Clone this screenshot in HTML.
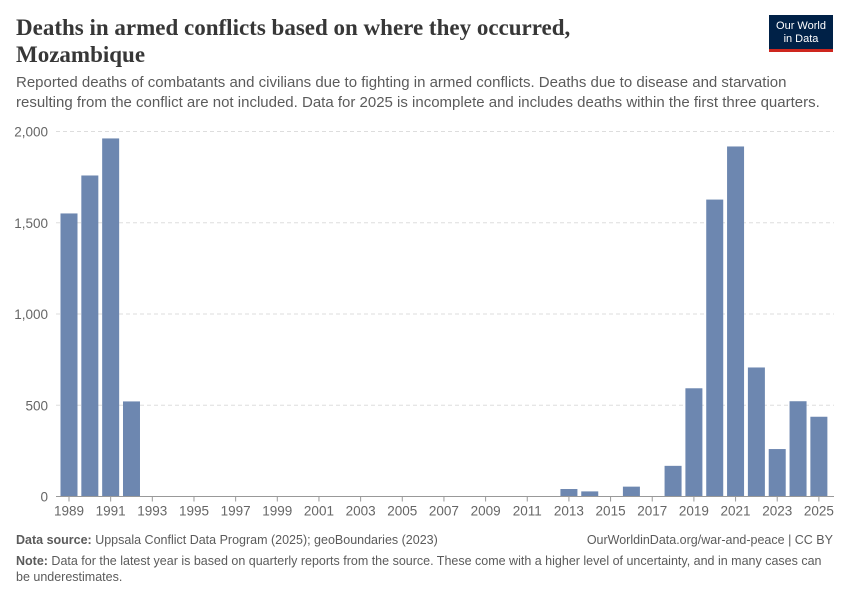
<!DOCTYPE html>
<html><head><meta charset="utf-8"><style>
body{margin:0;background:#fff;font-family:"Liberation Sans",sans-serif;}
#wrap{position:relative;width:850px;height:600px;overflow:hidden;}
.t{position:absolute;margin:0;}
</style></head><body>
<div id="wrap">
<h1 class="t" style="left:16px;top:14px;font-family:'Liberation Serif',serif;font-size:23px;line-height:27px;font-weight:bold;color:#373737;">Deaths in armed conflicts based on where they occurred,<br>Mozambique</h1>
<div class="t" style="left:769px;top:15px;width:64px;height:37px;background:#002147;border-bottom:3px solid #ce261e;color:#fff;font-size:11px;line-height:13px;text-align:center;padding-top:5px;box-sizing:border-box;">Our World<br>in Data</div>
<p class="t" style="left:16px;top:73px;font-size:15px;line-height:20px;color:#5b5b5b;width:820px;">Reported deaths of combatants and civilians due to fighting in armed conflicts. Deaths due to disease and starvation resulting from the conflict are not included. Data for 2025 is incomplete and includes deaths within the first three quarters.</p>
<svg id="chart" width="850" height="600" style="position:absolute;left:0;top:0;"></svg>
<div class="t" style="left:16px;top:533px;font-size:12.5px;color:#5b5b5b;"><b>Data source:</b> Uppsala Conflict Data Program (2025); geoBoundaries (2023)</div>
<div class="t" style="right:17px;top:533px;font-size:12.5px;color:#5b5b5b;">OurWorldinData.org/war-and-peace | CC BY</div>
<div class="t" style="left:16px;top:553px;width:810px;font-size:12.5px;line-height:16px;color:#5b5b5b;"><b>Note:</b> Data for the latest year is based on quarterly reports from the source. These come with a higher level of uncertainty, and in many cases can be underestimates.</div>
</div>
<script>
const years=[];for(let y=1989;y<=2025;y++)years.push(y);
const deaths=[1551,1759,1962,521,0,0,0,0,0,0,0,0,0,0,0,0,0,0,0,0,0,0,0,0,41,28,0,54,0,168,593,1627,1918,707,260,522,437];
const yTicks=[0,500,1000,1500,2000];
const yTickLabels=["0","500","1,000","1,500","2,000"];
const xTickYears=[1989,1991,1993,1995,1997,1999,2001,2003,2005,2007,2009,2011,2013,2015,2017,2019,2021,2023,2025];
const NS="http://www.w3.org/2000/svg";
const svg=document.getElementById('chart');
const y0=496.5,yPer=(496.5-131.5)/2000;
const yScale=v=>y0-v*yPer;
const step=20.83,x0=69;
const xScale=yr=>x0+(yr-1989)*step;
function mk(tag,attrs){const e=document.createElementNS(NS,tag);for(const k in attrs)e.setAttribute(k,attrs[k]);svg.appendChild(e);return e;}
yTicks.forEach((v,i)=>{
  if(v>0){const l=mk('line',{x1:56,x2:834,y1:yScale(v),y2:yScale(v),stroke:'#ddd','stroke-dasharray':'4,3'});
  
  }
  const t=mk('text',{x:48,y:yScale(v)+5,'text-anchor':'end','font-size':13.5,fill:'#666','font-family':'Liberation Sans, sans-serif'});
  t.textContent=yTickLabels[i];
  
  
});
years.forEach((yr,i)=>{
  const v=deaths[i];if(!v)return;
  const r=mk('rect',{x:xScale(yr)-8.5,y:yScale(v),width:17,height:v*yPer,fill:'#6d87b0'});
  
  
});
const ax=mk('line',{x1:56,x2:834,y1:y0,y2:y0,stroke:'#999'});


xTickYears.forEach(yr=>{
  const tk=mk('line',{x1:xScale(yr),x2:xScale(yr),y1:y0,y2:y0+5,stroke:'#999'});
  
  
  const t=mk('text',{x:xScale(yr),y:y0+19,'text-anchor':'middle','font-size':13.5,fill:'#666','font-family':'Liberation Sans, sans-serif'});
  t.textContent=yr;
  
  
});
</script>
</body></html>
